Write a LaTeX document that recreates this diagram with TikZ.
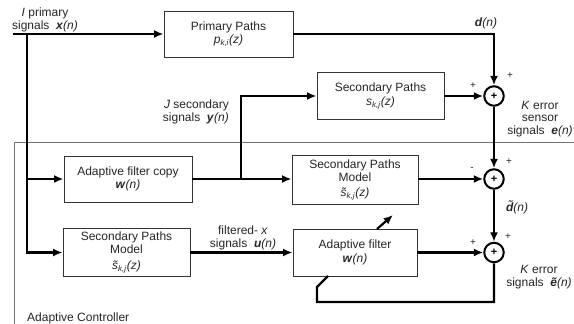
\documentclass[tikz,border=0pt]{standalone}
\usepackage{fontspec}
\setmainfont{Liberation Sans}
\usetikzlibrary{arrows.meta,calc}
\newcommand{\bi}[1]{\textit{\textbf{#1}}}
\newcommand{\kj}{\textsubscript{\textit{k,j}}}
\newcommand{\tacc}[1]{\accent"02DC #1}
\begin{document}
\begin{tikzpicture}[x=1pt,y=-1pt,
  font=\fontsize{12}{12.5}\selectfont,
  blk/.style={draw=black!80, line width=0.9pt, inner sep=0pt, align=center, text=black!85},
  sum/.style={circle, draw=black, line width=2pt, minimum size=19.5pt, inner sep=0pt, font=\bfseries\fontsize{11}{11}\selectfont},
  conn/.style={line width=2.2pt},
  sig/.style={conn, -{Latex[length=9.5pt,width=8pt]}},
  lbl/.style={inner sep=0pt, align=center, text=black!85},
  pm/.style={inner sep=0pt, font=\fontsize{10}{10}\selectfont, text=black!85}
]
\useasboundingbox (0,0) rectangle (574,324);
\fill[white] (0,0) rectangle (574,324);

% adaptive controller frame
\draw[black!55, line width=0.9pt] (14,324) -- (14,142) -- (574,142);
\node[lbl, anchor=west] (ac) at (27,318) {Adaptive Controller};

% blocks
\node[blk, minimum width=129pt, minimum height=46pt] (pp) at (228.5,34) {Primary Paths\\[1pt]\textit{p}\textsubscript{\textit{k,i}}\textit{(z)}};
\node[blk, minimum width=127pt, minimum height=47pt] (sp) at (380.5,96) {Secondary Paths\\[1pt]\textit{s}\kj\textit{(z)}};
\node[blk, minimum width=128pt, minimum height=46pt] (afc) at (128,179) {Adaptive filter copy\\[1pt]\bi{w}\textit{(n)}};
\node[blk, minimum width=126pt, minimum height=49pt] (spm1) at (355,180) {Secondary Paths\\[0.5pt]Model\\[3pt]\textit{\tacc{s}}\kj\textit{(z)}};
\node[blk, minimum width=127pt, minimum height=48pt] (spm2) at (126.5,252.5) {Secondary Paths\\[0.5pt]Model\\[3pt]\textit{\tacc{s}}\kj\textit{(z)}};
\node[blk, minimum width=124pt, minimum height=47pt] (af) at (355,252.5) {Adaptive filter\\[1pt]\bi{w}\textit{(n)}};

% summing junctions
\node[sum] (s1) at (494,96) {+};
\node[sum] (s2) at (494,179) {+};
\node[sum] (s3) at (494,252.5) {+};

% coordinates
\coordinate (in) at (13,34);
\coordinate (j1) at (27,34);
\coordinate (j2) at (241,179);
\coordinate (fbc) at (317,302);
\coordinate (fbd) at (317,287);
\coordinate (fbe) at (328,276);
\coordinate (da) at (377,229);
\coordinate (db) at (393,215);

% connectors
\draw[sig] (in) -- (pp.west);
\draw[sig] (j1) |- (spm2.west);
\draw[sig] (j1 |- afc.west) -- (afc.west);
\draw[sig] (pp.east) -| (s1.north);
\draw[sig] (afc.east) -- (spm1.west |- afc.east);
\draw[sig] (j2) |- (sp.west);
\draw[sig] (sp.east) -- (s1.west);
\draw[sig] (s1.south) -- (s2.north);
\draw[sig] (spm1.east |- s2.west) -- (s2.west);
\draw[sig] (s2.south) -- (s3.north);
\draw[sig] (af.east) -- (s3.west);
\draw[sig] (spm2.east) -- (af.west);
\draw[conn, line join=miter] (s3.south) |- (fbc) -- (fbd) -- (fbe);
\draw[sig] (da) -- (db);

% labels
\node[lbl] (lx) at (45,20) {\textit{I} primary\\signals\ \ \bi{x}\textit{(n)}};
\node[lbl] (ld) at (486,23) {\bi{d}\textit{(n)}};
\node[lbl] (le) at (540,119) {\textit{K} error\\sensor\\signals\ \ \bi{e}\textit{(n)}};
\node[lbl, align=right, anchor=east] (ly) at (229,112) {\textit{J} secondary\\signals\ \ \bi{y}\textit{(n)}};
\node[lbl] (lu) at (243,238) {filtered- \textit{x}\\signals\ \ \bi{u}\textit{(n)}};
\node[lbl] (ldt) at (517,207) {\textit{\textbf{\~{d}}}\textit{(n)}};
\node[lbl] (let) at (539,277) {\textit{K} error\\signals\ \ \textit{\textbf{ẽ}}\textit{(n)}};

\node[pm] (p1a) at (510,76) {+};
\node[pm] (p1b) at (473,86) {+};
\node[pm] (p2a) at (509,162) {+};
\node[pm] (p2b) at (472,169) {-};
\node[pm] (p3a) at (508,237) {+};
\node[pm] (p3b) at (473,243) {+};
\end{tikzpicture}
\end{document}
